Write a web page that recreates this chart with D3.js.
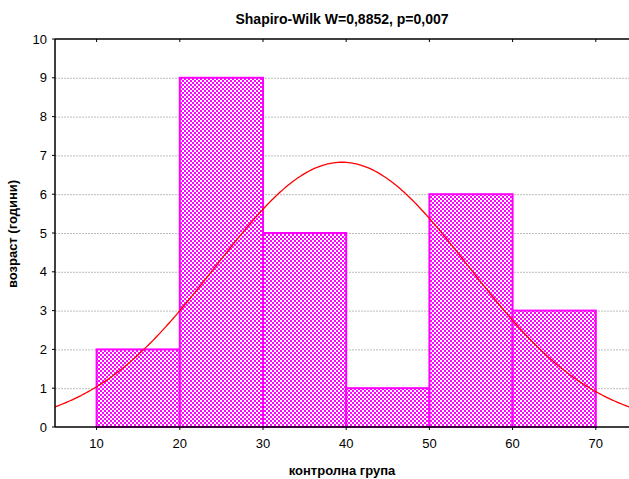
<!DOCTYPE html>
<html>
<head>
<meta charset="utf-8">
<script src="https://cdn.jsdelivr.net/npm/d3@7"></script>
<style>
  html, body { margin: 0; padding: 0; background: #fff; }
  svg { display: block; font-family: "Liberation Sans", Arial, sans-serif; }
</style>
</head>
<body>
<script>
// Histogram bins (lower edge, upper edge) and counts
const binStarts = [10, 20, 30, 40, 50, 60];
const binEnds   = [20, 30, 40, 50, 60, 70];
const counts    = [2, 9, 5, 1, 6, 3];

// Fitted normal curve parameters
const fitMean = 39.5;
const fitSd = 15.2;

const xTicks = [10, 20, 30, 40, 50, 60, 70];
const yTicks = [0, 1, 2, 3, 4, 5, 6, 7, 8, 9, 10];

const titleText = "Shapiro-Wilk W=0,8852, p=0,007";
const xTitle = "контролна група";
const yTitle = "возраст (години)";

const W = 629, H = 479;
const plotLeft = 55, plotTop = 39, plotBottom = 427;

const svg = d3.select("body").append("svg").attr("width", W).attr("height", H);

const x = d3.scaleLinear().domain([5, 75]).range([plotLeft, plotLeft + 70 * 8.32]);
const y = d3.scaleLinear().domain([0, 10]).range([plotBottom, plotTop]);

// checkered fill for bars
const defs = svg.append("defs");
const pat = defs.append("pattern").attr("id", "chk")
  .attr("patternUnits", "userSpaceOnUse").attr("width", 4).attr("height", 4);
pat.append("rect").attr("width", 4).attr("height", 4).attr("fill", "#ff00ff");
pat.append("rect").attr("x", 0).attr("y", 0).attr("width", 2).attr("height", 2).attr("fill", "#ffffff");
pat.append("rect").attr("x", 2).attr("y", 2).attr("width", 2).attr("height", 2).attr("fill", "#ffffff");

defs.append("clipPath").attr("id", "plotclip")
  .append("rect").attr("x", plotLeft).attr("y", plotTop).attr("width", W - plotLeft).attr("height", plotBottom - plotTop);

// gridlines
svg.append("g").selectAll("line").data(yTicks.filter(d => d > 0 && d < 10)).join("line")
  .attr("x1", plotLeft).attr("x2", W)
  .attr("y1", d => y(d) + 0.5).attr("y2", d => y(d) + 0.5)
  .attr("stroke", "#bdbdbd").attr("stroke-width", 1).attr("stroke-dasharray", "2,1");

// bars
svg.append("g").selectAll("rect").data(counts).join("rect")
  .attr("x", (d, i) => x(binStarts[i]))
  .attr("y", d => y(d))
  .attr("width", (d, i) => x(binEnds[i]) - x(binStarts[i]))
  .attr("height", d => y(0) - y(d))
  .attr("fill", "url(#chk)")
  .attr("stroke", "#ff00ff").attr("stroke-width", 2);

// normal curve scaled to counts
const total = d3.sum(counts);
const binW = 10;
const curvePts = d3.range(5, 75.01, 0.25).map(v => {
  const z = (v - fitMean) / fitSd;
  return [v, total * binW * Math.exp(-0.5 * z * z) / (fitSd * Math.sqrt(2 * Math.PI))];
});
svg.append("path").datum(curvePts)
  .attr("clip-path", "url(#plotclip)")
  .attr("d", d3.line().x(d => x(d[0])).y(d => y(d[1])))
  .attr("fill", "none").attr("stroke", "#ff0000").attr("stroke-width", 1.3);

// axes lines
const axisG = svg.append("g").attr("stroke", "#000");
axisG.append("line").attr("x1", plotLeft).attr("x2", W).attr("y1", plotTop).attr("y2", plotTop).attr("stroke-width", 1.5);
axisG.append("line").attr("x1", plotLeft).attr("x2", W).attr("y1", plotBottom).attr("y2", plotBottom).attr("stroke-width", 1.5);
axisG.append("line").attr("x1", plotLeft).attr("x2", plotLeft).attr("y1", plotTop).attr("y2", plotBottom).attr("stroke-width", 1.5);

// tick marks
axisG.selectAll(".tb").data(xTicks).join("line")
  .attr("x1", d => x(d)).attr("x2", d => x(d)).attr("y1", plotBottom).attr("y2", plotBottom + 3);
axisG.selectAll(".tt").data(xTicks).join("line")
  .attr("x1", d => x(d)).attr("x2", d => x(d)).attr("y1", plotTop).attr("y2", plotTop + 3);
axisG.selectAll(".tl").data(yTicks).join("line")
  .attr("x1", plotLeft - 3).attr("x2", plotLeft).attr("y1", d => y(d)).attr("y2", d => y(d));

// tick labels
svg.append("g").selectAll("text").data(yTicks).join("text")
  .attr("x", 47).attr("y", d => y(d) + 4.5)
  .attr("text-anchor", "end").attr("font-size", 13).attr("fill", "#000")
  .text(d => d);
svg.append("g").selectAll("text").data(xTicks).join("text")
  .attr("x", d => x(d)).attr("y", 448)
  .attr("text-anchor", "middle").attr("font-size", 13).attr("fill", "#000")
  .text(d => d);

// titles
svg.append("text").attr("x", 342).attr("y", 24).attr("text-anchor", "middle")
  .attr("font-size", 14).attr("font-weight", "bold").text(titleText);
svg.append("text").attr("x", 342).attr("y", 475).attr("text-anchor", "middle")
  .attr("font-size", 13).attr("font-weight", "bold").text(xTitle);
svg.append("text").attr("transform", "translate(17,234) rotate(-90)").attr("text-anchor", "middle")
  .attr("font-size", 13).attr("font-weight", "bold").text(yTitle);
</script>
</body>
</html>
